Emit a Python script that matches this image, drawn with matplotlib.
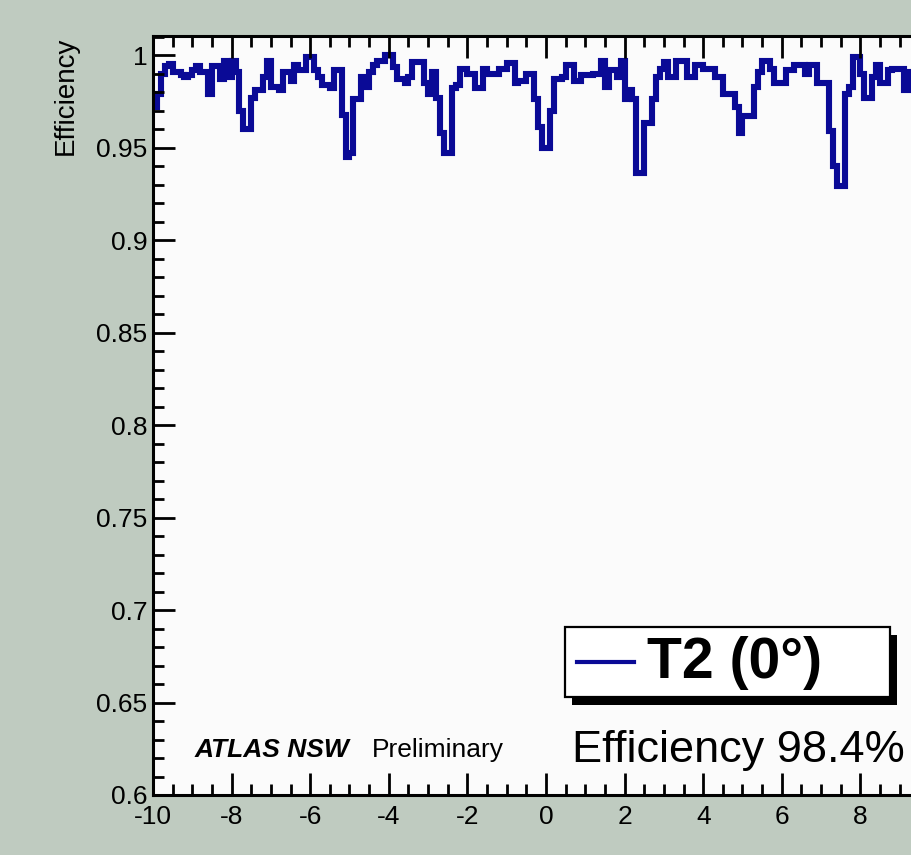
import numpy as np
import matplotlib
matplotlib.use("Agg")
import matplotlib.pyplot as plt
from matplotlib.patches import Rectangle
from matplotlib.lines import Line2D
from matplotlib.ticker import MultipleLocator, FormatStrFormatter

plt.rcParams['font.family'] = ['Liberation Sans', 'DejaVu Sans']
plt.rcParams['axes.unicode_minus'] = False

# ----------------------------
# Data: efficiency per 0.1 bin, x from -10 to 10
# ----------------------------
x_min, x_max = -10.0, 10.0
x_tick_labels = [-10, -8, -6, -4, -2, 0, 2, 4, 6, 8]
efficiency = [
    0.972, 0.979, 0.990, 0.994, 0.995, 0.991, 0.991, 0.989, 0.988, 0.989,
    0.992, 0.994, 0.991, 0.991, 0.979, 0.994, 0.994, 0.987, 0.997, 0.988,
    0.997, 0.991, 0.970, 0.960, 0.960, 0.977, 0.981, 0.981, 0.988, 0.997,
    0.983, 0.983, 0.981, 0.991, 0.991, 0.986, 0.9945, 0.992, 0.992, 0.999,
    0.999, 0.992, 0.988, 0.984, 0.984, 0.982, 0.992, 0.992, 0.9675, 0.945,
    0.947, 0.976, 0.976, 0.988, 0.983, 0.991, 0.9945, 0.997, 0.997, 1.000,
    1.000, 0.9935, 0.987, 0.987, 0.985, 0.988, 0.996, 0.996, 0.996, 0.985,
    0.979, 0.991, 0.977, 0.958, 0.947, 0.947, 0.982, 0.984, 0.9925, 0.9925,
    0.990, 0.990, 0.982, 0.982, 0.9925, 0.990, 0.990, 0.990, 0.9925, 0.9925,
    0.9955, 0.9955, 0.985, 0.986, 0.986, 0.990, 0.990, 0.976, 0.961, 0.950,
    0.950, 0.970, 0.987, 0.987, 0.988, 0.9945, 0.9945, 0.986, 0.986, 0.989,
    0.989, 0.989, 0.990, 0.990, 0.997, 0.983, 0.992, 0.992, 0.988, 0.997,
    0.976, 0.981, 0.976, 0.936, 0.936, 0.963, 0.963, 0.976, 0.988, 0.9925,
    0.996, 0.988, 0.988, 0.997, 0.997, 0.997, 0.988, 0.988, 0.9945, 0.9945,
    0.9925, 0.9925, 0.9925, 0.988, 0.988, 0.979, 0.979, 0.979, 0.972, 0.958,
    0.967, 0.967, 0.967, 0.983, 0.991, 0.997, 0.997, 0.9925, 0.985, 0.985,
    0.985, 0.992, 0.992, 0.9945, 0.9945, 0.9945, 0.990, 0.9945, 0.9945, 0.985,
    0.985, 0.985, 0.959, 0.940, 0.929, 0.929, 0.979, 0.983, 0.999, 0.999,
    0.990, 0.977, 0.977, 0.988, 0.9945, 0.985, 0.985, 0.992, 0.9925, 0.9925,
    0.9925, 0.981, 0.991, 0.991, 0.990, 0.993, 0.988, 0.990, 0.985, 0.975,
]
legend_label = 'T2 (0°)'
summary_text = 'Efficiency 98.4%'

W, H = 912, 855
BLUE = '#0a0a96'


def fx(px):
    return px / W


def fy(py):
    return 1 - py / H


fig = plt.figure(figsize=(W / 100, H / 100), dpi=100)
fig.patch.set_facecolor('#bfcbc0')

# axes extends past the right edge, as in the cropped original
ax = fig.add_axes([fx(153), fy(795), fx(939) - fx(153), fy(36) - fy(795)])
ax.set_facecolor('#fbfbfb')

edges = np.linspace(x_min, x_max, len(efficiency) + 1)
ax.stairs(efficiency, edges, color=BLUE, linewidth=4.4, baseline=None)

ax.set_xlim(x_min, x_max)
ax.set_ylim(0.6, 1.0103)

ax.set_xticks(x_tick_labels)
ax.xaxis.set_minor_locator(MultipleLocator(0.5))
ax.yaxis.set_major_locator(MultipleLocator(0.05))
ax.yaxis.set_minor_locator(MultipleLocator(0.01))
ax.yaxis.set_major_formatter(FormatStrFormatter('%g'))

ax.tick_params(which='both', direction='in', top=True, right=True,
               width=2, colors='black', labelsize=19)
ax.tick_params(which='major', length=16)
ax.tick_params(which='minor', length=8)
ax.tick_params(axis='x', pad=7)
ax.tick_params(axis='y', pad=4)
for sp in ax.spines.values():
    sp.set_linewidth(2.2)

fig.text(fx(66), fy(37), 'Efficiency', rotation=90, ha='center', va='top',
         fontsize=20)

# ROOT-style legend box with solid shadow
shadow = Rectangle((fx(572), fy(705)), fx(897) - fx(572), fy(635) - fy(705),
                   transform=fig.transFigure, facecolor='black', edgecolor='none')
box = Rectangle((fx(565), fy(697)), fx(890) - fx(565), fy(627) - fy(697),
                transform=fig.transFigure, facecolor='white', edgecolor='black',
                linewidth=1.6)
fig.add_artist(shadow)
fig.add_artist(box)
fig.add_artist(Line2D([fx(577), fx(634)], [fy(662), fy(662)],
                      transform=fig.transFigure, color=BLUE, linewidth=3))
fig.text(fx(647), fy(678), legend_label, ha='left', va='baseline',
         fontsize=41, fontweight='bold')

fig.text(fx(572), fy(762), summary_text, ha='left', va='baseline', fontsize=32.5)
fig.text(fx(195), fy(757), 'ATLAS NSW', ha='left', va='baseline',
         fontsize=19, fontweight='bold', fontstyle='italic')
fig.text(fx(372), fy(757), 'Preliminary', ha='left', va='baseline', fontsize=19)

fig.savefig('out.png', dpi=100, facecolor=fig.get_facecolor())
